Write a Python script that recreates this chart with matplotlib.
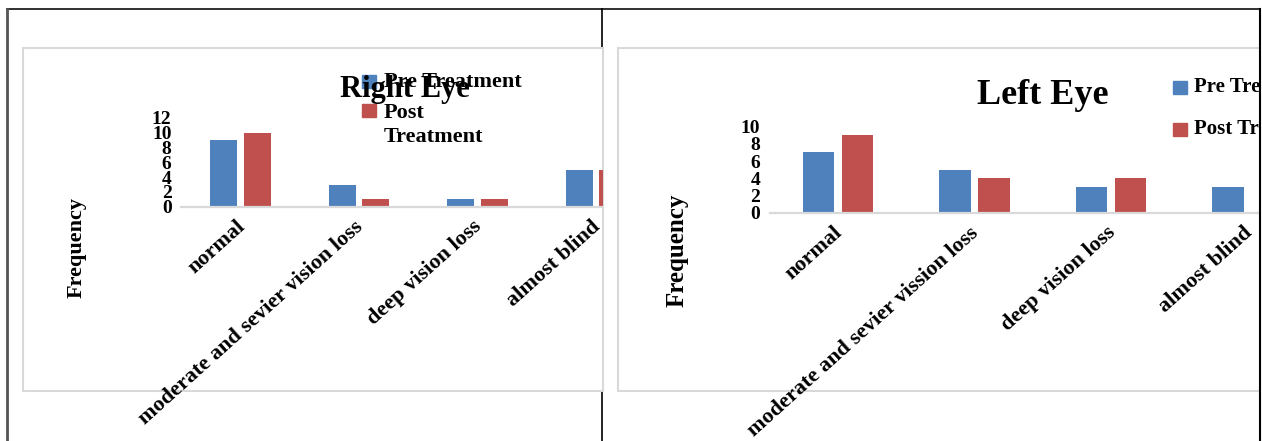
import matplotlib
matplotlib.use("Agg")
import matplotlib.pyplot as plt
import numpy as np
from matplotlib.patches import Rectangle
from matplotlib.lines import Line2D
from matplotlib.transforms import Affine2D, ScaledTranslation

W, H = 1262, 441

series = ["Pre Treatment", "Post Treatment"]

right_cats = ["normal", "moderate and sevier vision loss", "deep vision loss", "almost blind"]
right_pre = [9, 3, 1, 5]
right_post = [10, 1, 1, 5]

left_cats = ["normal", "moderate and sevier vission loss", "deep vision loss", "almost blind"]
left_pre = [7, 5, 3, 3]
left_post = [9, 4, 4, 0]

BLUE = "#4F81BD"
RED = "#C0504D"
GRID = "#D9D9D9"
SERIF = "Liberation Serif"

fig = plt.figure(figsize=(W / 100, H / 100), dpi=100)
# pixel coordinates measured from the top-left corner of the page
px = Affine2D().scale(1 / W, -1 / H).translate(0, 1) + fig.transFigure


def rect(x0, y0, x1, y1):
    return [x0 / W, 1 - y1 / H, (x1 - x0) / W, (y1 - y0) / H]


def line(x0, y0, x1, y1, color, lw, z):
    fig.add_artist(Line2D([x0, x1], [y0, y1], transform=px, color=color, lw=lw, zorder=z))


# table cell borders behind the two charts
line(7, 9, 1260, 9, "#303030", 1.4, -5)
line(7, 9, 7, 441, "#555555", 2.0, -5)
line(602, 9, 602, 441, "#000000", 1.2, -5)

# chart areas
for x0, x1 in [(23, 603), (618, 1275)]:
    fig.add_artist(Rectangle((x0, 48), x1 - x0, 343, transform=px, facecolor="white",
                             edgecolor=GRID, lw=1.5, zorder=-4))


def panel(box, unit, cats, pre, post, ymax, tick_fs, cat_fs):
    ax = fig.add_axes(rect(*box))
    ax.set_facecolor("none")
    x = np.arange(len(cats))
    ax.bar(x - 0.143, pre, 0.228, color=BLUE, label=series[0])
    ax.bar(x + 0.143, post, 0.228, color=RED, label=series[1])
    ax.set_xlim(-0.5, -0.5 + (box[2] - box[0]) / unit)
    ax.set_ylim(0, ymax)
    ax.set_yticks(range(0, ymax + 1, 2))
    for s in ["top", "right", "left"]:
        ax.spines[s].set_visible(False)
    ax.spines["bottom"].set_color(GRID)
    ax.spines["bottom"].set_linewidth(1.6)
    ax.tick_params(length=0, pad=7)
    ax.set_xticks(x)
    ax.set_xticklabels([])
    # slanted category names, their upper-right end just below each group
    shift = ScaledTranslation(-5 / 100, -10 / 100, fig.dpi_scale_trans)
    for xi, c in zip(x, cats):
        ax.text(xi, 0, c, transform=ax.get_xaxis_transform() + shift, rotation=42,
                rotation_mode="anchor", ha="right", va="top", fontsize=cat_fs,
                fontweight="bold", family=SERIF, clip_on=False)
    for t in ax.get_yticklabels():
        t.set_fontsize(tick_fs)
        t.set_fontweight("bold")
        t.set_family(SERIF)
    return ax


# Right eye: 118.5 px per category, 7.4 px per unit
ax_r = panel((181.25, 118, 603, 206.7), 118.5, right_cats, right_pre, right_post, 12, 14, 16)
# Left eye: 136.5 px per category, 8.6 px per unit
ax_l = panel((769.75, 126.7, 1258, 212.7), 136.5, left_cats, left_pre, left_post, 10, 14, 16)

txt = dict(transform=px, family=SERIF, fontweight="bold")
fig.text(405, 97.5, "Right Eye", fontsize=22, ha="center", va="baseline", **txt)
fig.text(1043, 104, "Left Eye", fontsize=26, ha="center", va="baseline", **txt)
fig.text(77, 247, "Frequency", fontsize=16, rotation=90, ha="center", va="center", **txt)
fig.text(677, 250, "Frequency", fontsize=18, rotation=90, ha="center", va="center", **txt)

# legends
fig.add_artist(Rectangle((362, 75), 14, 13, transform=px, color=BLUE))
fig.text(384, 82, series[0], fontsize=16, ha="left", va="center", **txt)
fig.add_artist(Rectangle((362, 104), 14, 13, transform=px, color=RED))
fig.text(384, 125, series[1].replace(" ", "\n"), fontsize=16, ha="left", va="center",
         linespacing=1.3, **txt)
for (y, lab, c) in [(80.5, series[0], BLUE), (122.5, series[1], RED)]:
    fig.add_artist(Rectangle((1173, y), 14, 13, transform=px, color=c))
    fig.text(1194, y + 6.5, lab, fontsize=15, ha="left", va="center", **txt)

# right cell border; nothing is shown past it
fig.add_artist(Rectangle((1259, 0), 10, H, transform=px, facecolor="white", edgecolor="none",
                         zorder=10))
line(1260, 9, 1260, 441, "#000000", 1.5, 11)

fig.savefig("out.png", dpi=100)
